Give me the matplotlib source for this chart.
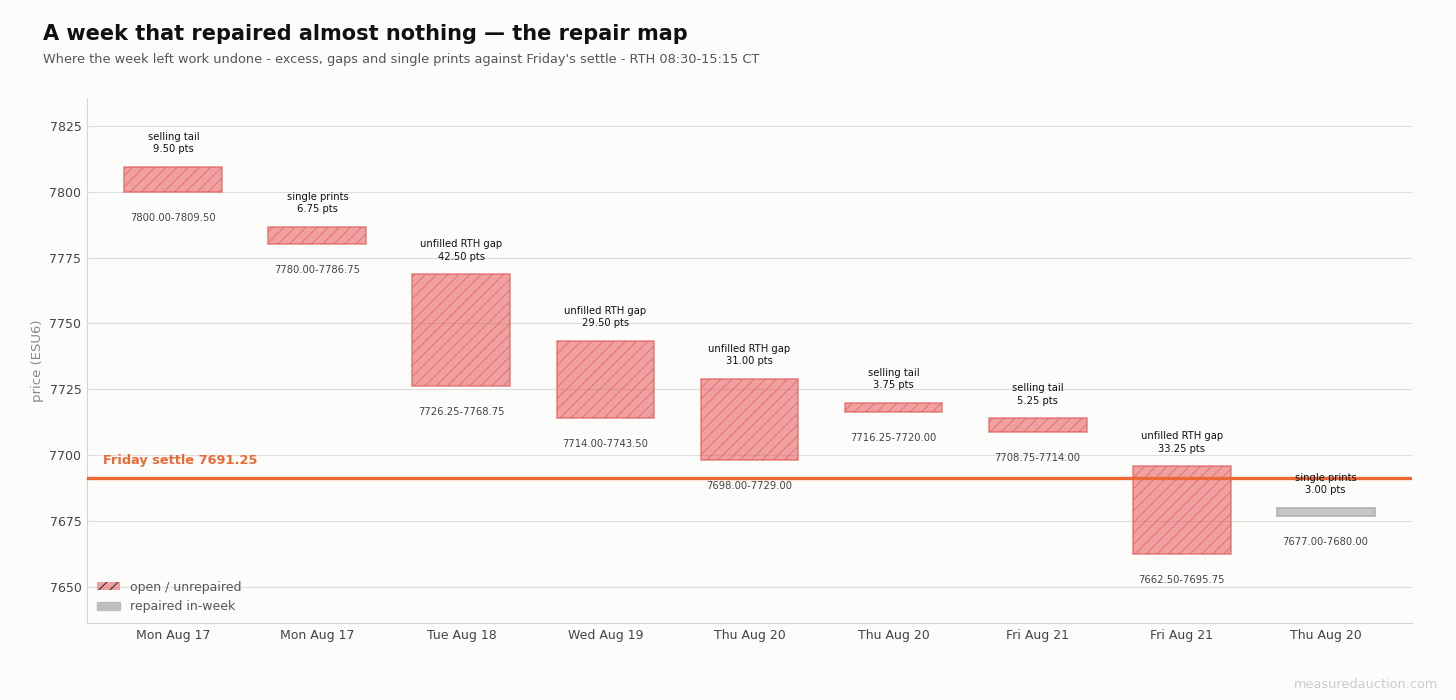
import matplotlib
matplotlib.use("Agg")
import matplotlib.pyplot as plt
from matplotlib.patches import Patch

days = ["Mon Aug 17", "Mon Aug 17", "Tue Aug 18", "Wed Aug 19", "Thu Aug 20",
        "Thu Aug 20", "Fri Aug 21", "Fri Aug 21", "Thu Aug 20"]
kinds = ["selling tail", "single prints", "unfilled RTH gap", "unfilled RTH gap",
         "unfilled RTH gap", "selling tail", "selling tail", "unfilled RTH gap",
         "single prints"]
lows = [7800.00, 7780.00, 7726.25, 7714.00, 7698.00, 7716.25, 7708.75, 7662.50, 7677.00]
highs = [7809.50, 7786.75, 7768.75, 7743.50, 7729.00, 7720.00, 7714.00, 7695.75, 7680.00]
repaired = [False, False, False, False, False, False, False, False, True]
settle = 7691.25

BG = "#FCFCFA"
GRAY = "#BDBDBD"
ORANGE = "#EC6936"
FACE = (0.894, 0.341, 0.337, 0.55)
EDGE = (0.894, 0.341, 0.337, 0.65)

plt.rcParams["hatch.linewidth"] = 0.7
fig = plt.figure(figsize=(14.56, 7.0), dpi=100, facecolor=BG)
ax = fig.add_axes([87/1456, 1-623/700, (1412-87)/1456, (623-98)/700])
ax.set_facecolor(BG)

x = list(range(len(days)))
for i in x:
    lo, hi = lows[i], highs[i]
    if repaired[i]:
        ax.bar(i, hi - lo, bottom=lo, width=0.68, color=GRAY, alpha=0.85,
               edgecolor="#A8A8A8", linewidth=1.2, zorder=3)
    else:
        ax.bar(i, hi - lo, bottom=lo, width=0.68, facecolor=FACE,
               edgecolor=EDGE, linewidth=1.2, hatch="///", zorder=3)
    ax.annotate(f"{kinds[i]}\n{hi - lo:.2f} pts", (i, hi), xytext=(0, 9),
                textcoords="offset points", ha="center", va="bottom",
                fontsize=7.2, color="#111111", linespacing=1.3, zorder=5)
    ax.annotate(f"{lo:.2f}-{hi:.2f}", (i, lo), xytext=(0, -15),
                textcoords="offset points", ha="center", va="top",
                fontsize=7.2, color="#444444", zorder=5)

ax.axhline(settle, color=ORANGE, lw=2.4, zorder=4)
ax.text(-0.49, settle + 4.3, f"Friday settle {settle:.2f}", color=ORANGE,
        fontsize=9.3, fontweight="bold", ha="left", va="bottom", zorder=5)

ax.set_xlim(-0.6, 8.6)
ax.set_ylim(7636.3, 7835.6)
ax.set_xticks(x)
ax.set_xticklabels(days)
ax.set_yticks([7650, 7675, 7700, 7725, 7750, 7775, 7800, 7825])
ax.tick_params(axis="both", length=0, labelsize=9, colors="#444444", pad=4)
ax.grid(axis="y", color="#DDDDDD", lw=0.8, zorder=0)
ax.set_axisbelow(True)
for s in ["top", "right"]:
    ax.spines[s].set_visible(False)
for s in ["left", "bottom"]:
    ax.spines[s].set_color("#D5D5D5")
ax.set_ylabel("price (ESU6)", color="#888888", fontsize=9.5, labelpad=4)

handles = [Patch(facecolor=FACE, edgecolor="#222222", hatch="///", linewidth=0, label="open / unrepaired"),
           Patch(facecolor=GRAY, edgecolor=GRAY, label="repaired in-week")]
leg = ax.legend(handles=handles, loc="lower left", frameon=False, fontsize=9,
                labelcolor="#555555", handlelength=1.8, handleheight=0.6,
                borderaxespad=0.4, bbox_to_anchor=(0.0, 0.0))

fig.text(43/1456, 1-34/700, "A week that repaired almost nothing \u2014 the repair map",
         fontsize=15, fontweight="bold", color="#111111", ha="left", va="center")
fig.text(43/1456, 1-59/700,
         "Where the week left work undone - excess, gaps and single prints against Friday's settle - RTH 08:30-15:15 CT",
         fontsize=9.25, color="#555555", ha="left", va="center")
fig.text(1438/1456, 1-684/700, "measuredauction.com", fontsize=9.3, color="#CCCCCC",
         ha="right", va="center")

fig.savefig("out.png", dpi=100, facecolor=BG)
